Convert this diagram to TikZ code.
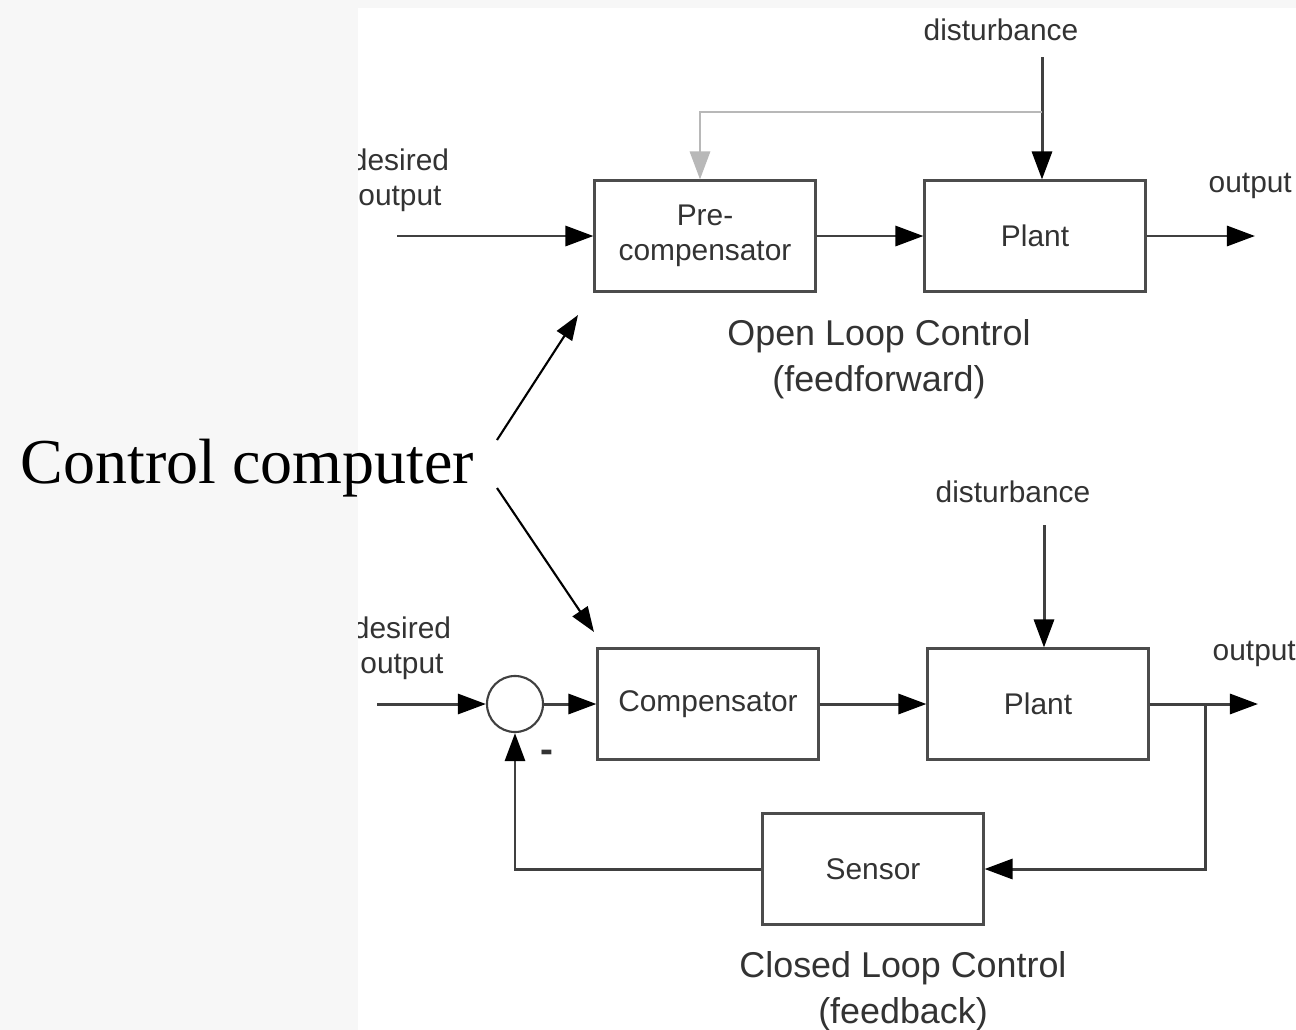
\documentclass[tikz,border=0pt]{standalone}
\usepackage{fontspec}
\setmainfont{Liberation Serif}
\newfontfamily\arialf{Liberation Sans}
\usetikzlibrary{arrows.meta}

\tikzset{
  block/.style={draw=black!70, line width=0.85pt, fill=white, minimum width=2.2cm, minimum height=1.1cm,
    font=\arialf\fontsize{8.5}{10}\selectfont, text=black!80, align=center, inner sep=0pt},
  sumnode/.style={circle, draw=black!75, line width=0.6pt, minimum size=0.56cm, inner sep=0pt},
  sig/.style={draw=black!75, line width=0.85pt, -{Triangle[length=0.28cm,width=0.2cm,color=black]}},
  ffwd/.style={sig, draw=black!28, -{Triangle[length=0.28cm,width=0.2cm,color=black!28]}},
  lbl/.style={font=\arialf\fontsize{8.5}{10}\selectfont, text=black!80, inner sep=0pt, align=center},
  loopcap/.style={font=\arialf\fontsize{10.2}{13.2}\selectfont, text=black!80, align=center, inner sep=0pt},
  pointer/.style={draw=black, line width=0.6pt, -{Triangle[length=0.25cm,width=0.18cm]}},
}

\begin{document}
\begin{tikzpicture}[x=0.01cm,y=-0.01cm]

  % page and drawing area
  \fill[gray!6] (0,0) rectangle (1296,1030);
  \fill[white] (358,8) rectangle (1296,1030);
  \useasboundingbox (0,0) rectangle (1296,1030);

  \begin{scope}
    \clip (358,8) rectangle (1296,1030);

    % Open loop
    \node[block] (pre) at (705,236) {Pre-\\compensator};
    \node[block] (plantA) at (1035,236) {Plant};
    \node[lbl] (desA) at (400,180) {desired\\output};
    \node[lbl] (distA) at (1001,30) {disturbance};
    \node[lbl, anchor=base west] (outA) at (1208,192) {output};
    \coordinate (inA) at (397,236); \coordinate (endA) at (1255,236);
    \coordinate (dA) at (1042,57); \coordinate (tapA) at (1042,112);
    \draw[sig] (inA) -- (pre.west);
    \draw[sig] (pre.east) -- (plantA.west);
    \draw[sig] (plantA.east) -- (endA);
    \draw[sig] (dA) -- (dA |- plantA.north);
    \draw[ffwd] (tapA) -| ([xshift=-0.05cm]pre.north);
    \node[loopcap] (capA) at (879,359) {Open Loop Control\\(feedforward)};

    % Closed loop
    \node[sumnode] (sum) at (515,704) {};
    \node[block] (comp) at (708,704) {Compensator};
    \node[block] (plantB) at (1038,704) {Plant};
    \node[block] (sens) at (873,869) {Sensor};
    \node[lbl] (desB) at (402,648) {desired\\output};
    \node[lbl] (distB) at (1013,492) {disturbance};
    \node[lbl, anchor=base west] (outB) at (1212,660) {output};
    \node[lbl, font=\arialf\bfseries\fontsize{11}{12}\selectfont] (minus) at (547,756) {-};
    \coordinate (inB) at (377,704); \coordinate (endB) at (1258,704);
    \coordinate (dB) at (1044,525); \coordinate (br) at (1205,704);
    \draw[sig] (inB) -- (sum.west);
    \draw[sig] (sum.east) -- (comp.west);
    \draw[sig] (comp.east) -- (plantB.west);
    \draw[sig] (plantB.east) -- (endB);
    \draw[sig] (dB) -- (dB |- plantB.north);
    \draw[sig] (br) |- (sens.east);
    \draw[sig] (sens.west) -| (sum.south);
    \node[loopcap] (capB) at (903,991) {Closed Loop Control\\(feedback)};
  \end{scope}

  % Control computer
  \node[anchor=base west, inner sep=0pt, font=\fontsize{18.2}{20}\selectfont] (cc) at (20,483) {Control computer};
  \coordinate (ccA) at (497,440); \coordinate (tipA) at (578,315);
  \coordinate (ccB) at (497,488); \coordinate (tipB) at (594,632);
  \draw[pointer] (ccA) -- (tipA);
  \draw[pointer] (ccB) -- (tipB);

\end{tikzpicture}
\end{document}
